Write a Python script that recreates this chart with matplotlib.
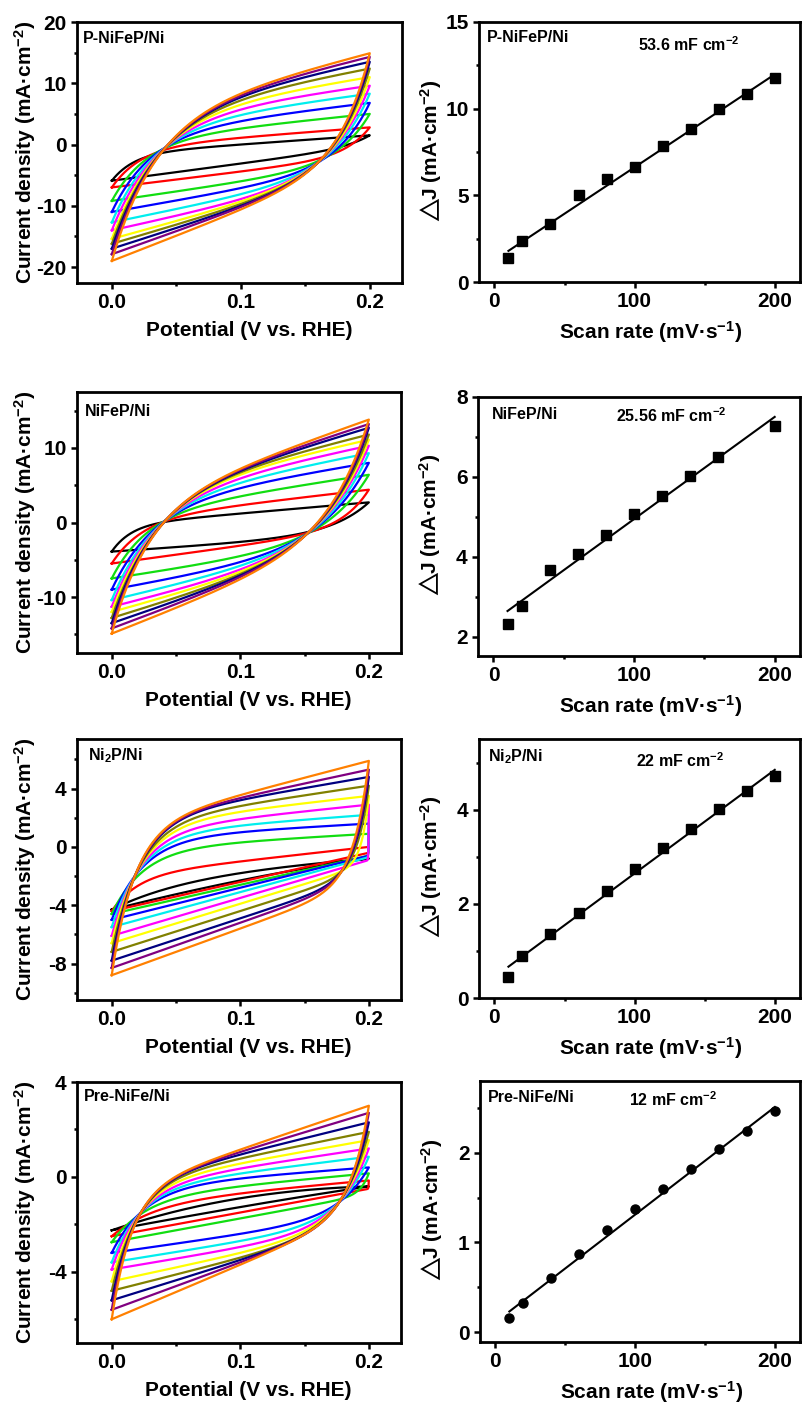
import numpy as np
import matplotlib
matplotlib.use('Agg')
import matplotlib.pyplot as plt
from matplotlib.ticker import MultipleLocator

plt.rcParams['font.family'] = ['Liberation Sans', 'DejaVu Sans']
plt.rcParams['font.weight'] = 'bold'
plt.rcParams['axes.unicode_minus'] = False
plt.rcParams['mathtext.fontset'] = 'custom'
plt.rcParams['mathtext.rm'] = 'Liberation Sans:bold'
plt.rcParams['mathtext.bf'] = 'Liberation Sans:bold'
plt.rcParams['mathtext.it'] = 'Liberation Sans:bold:italic'
plt.rcParams['mathtext.default'] = 'bf'

# ---------------- data ----------------
scan_rates = [10, 20, 40, 60, 80, 100, 120, 140, 160, 180, 200]
curve_colors = ['#000000', '#ff0000', '#11dd11', '#0000ff', '#00eeee', '#ff00ff',
                '#ffff00', '#808000', '#000080', '#800080', '#ff8000']

samples = ['P-NiFeP/Ni', 'NiFeP/Ni', 'Ni$_2$P/Ni', 'Pre-NiFe/Ni']

# CV readings (mA cm-2) for each scan rate:
#   top  = current at 0.2 V (switching point), bottom = current at 0 V
#   anodic_x / anodic_mid = anodic sweep at the left crossing potential / at 0.1 V
#   cathodic_x / cathodic_mid = cathodic sweep at the right crossing potential / at 0.1 V
pnifep_top = [1.5, 2.8, 5.0, 6.8, 8.3, 9.6, 11.0, 12.4, 13.5, 14.3, 14.9]
pnifep_bottom = [-5.9, -7.0, -9.2, -11.0, -12.7, -14.0, -15.4, -16.2, -17.0, -17.9, -19.0]
pnifep_anodic_x = [-1.25, -0.8, -0.5, -0.4, -0.4, -0.4, -0.4, -0.4, -0.4, -0.4, -0.4]
pnifep_anodic_mid = [0.0, 1.1, 2.6, 3.8, 4.8, 5.7, 6.5, 7.2, 7.7, 8.0, 8.3]
pnifep_cathodic_x = [-1.2, -2.3, -2.7, -2.9, -2.9, -2.9, -2.9, -2.9, -2.9, -2.9, -2.9]
pnifep_cathodic_mid = [-3.1, -4.4, -6.0, -7.1, -8.1, -8.9, -9.3, -9.7, -10.0, -10.2, -10.6]

nifep_top = [2.7, 4.4, 6.4, 8.0, 9.3, 10.3, 11.1, 11.8, 12.7, 13.2, 13.8]
nifep_bottom = [-3.9, -5.5, -7.5, -9.0, -10.4, -11.3, -12.0, -12.8, -13.5, -14.2, -14.9]
nifep_anodic_x = [0.1, 0.2, 0.3, 0.3, 0.3, 0.3, 0.3, 0.3, 0.3, 0.3, 0.3]
nifep_anodic_mid = [1.2, 2.3, 3.5, 4.6, 5.3, 5.9, 6.4, 6.7, 6.9, 7.05, 7.2]
nifep_cathodic_x = [-1.3, -1.4, -1.5, -1.5, -1.5, -1.5, -1.5, -1.5, -1.5, -1.5, -1.5]
nifep_cathodic_mid = [-2.6, -3.1, -4.5, -5.3, -5.8, -6.3, -6.6, -6.9, -7.1, -7.3, -7.6]

ni2p_top = [-0.8, 0.0, 0.9, 1.6, 2.2, 2.9, 3.5, 4.2, 4.8, 5.3, 5.9]
ni2p_bottom = [-4.3, -4.4, -4.6, -5.0, -5.5, -6.1, -6.6, -7.2, -7.8, -8.3, -8.8]
ni2p_anodic_x = [-3.6, -2.8, -2.2, -2.0, -2.0, -2.0, -2.0, -2.0, -2.0, -2.0, -2.0]
ni2p_anodic_mid = [-1.8, -1.0, 0.3, 1.0, 1.45, 1.9, 2.4, 2.8, 3.2, 3.35, 3.55]
ni2p_cathodic_x = [-1.3, -1.5, -1.65, -1.65, -1.65, -1.65, -1.65, -1.65, -1.65, -1.65, -1.65]
ni2p_cathodic_mid = [-2.3, -2.4, -2.6, -2.8, -3.1, -3.5, -3.9, -4.4, -4.9, -5.2, -5.6]

prenife_top = [-0.4, -0.15, 0.15, 0.4, 0.85, 1.2, 1.55, 1.9, 2.3, 2.7, 3.0]
prenife_bottom = [-2.25, -2.5, -2.75, -3.2, -3.6, -3.9, -4.4, -4.8, -5.2, -5.6, -6.0]
prenife_anodic_x = [-1.85, -1.7, -1.55, -1.48, -1.48, -1.48, -1.48, -1.48, -1.48, -1.48, -1.48]
prenife_anodic_mid = [-0.9, -0.7, -0.4, -0.07, 0.14, 0.35, 0.56, 0.77, 0.94, 1.05, 1.15]
prenife_cathodic_x = [-0.65, -0.8, -0.95, -1.06, -1.06, -1.06, -1.06, -1.06, -1.06, -1.06, -1.06]
prenife_cathodic_mid = [-1.27, -1.5, -1.75, -2.4, -2.7, -2.95, -3.2, -3.4, -3.5, -3.6, -3.7]

# crossing potentials (V) where the sweeps bunch together: left (anodic) / right (cathodic)
cv_cross_left = [0.042, 0.042, 0.018, 0.023]
cv_cross_right = [0.160, 0.152, 0.179, 0.177]

# Delta J vs scan rate
pnifep_rates = [10, 20, 40, 60, 80, 100, 120, 140, 160, 180, 200]
pnifep_dj = [1.40, 2.37, 3.33, 5.00, 5.92, 6.63, 7.87, 8.85, 9.96, 10.83, 11.79]
nifep_rates = [10, 20, 40, 60, 80, 100, 120, 140, 160, 200]
nifep_dj = [2.32, 2.77, 3.67, 4.06, 4.54, 5.07, 5.52, 6.02, 6.50, 7.27]
ni2p_rates = [10, 20, 40, 60, 80, 100, 120, 140, 160, 180, 200]
ni2p_dj = [0.44, 0.89, 1.36, 1.81, 2.27, 2.74, 3.18, 3.59, 4.01, 4.39, 4.72]
prenife_rates = [10, 20, 40, 60, 80, 100, 120, 140, 160, 180, 200]
prenife_dj = [0.16, 0.32, 0.60, 0.87, 1.14, 1.37, 1.60, 1.82, 2.04, 2.24, 2.47]

cdl_values = [53.6, 25.56, 22, 12]          # mF cm-2 (fit slopes)
cdl_labels = ['53.6', '25.56', '22', '12']
fit_intercepts = [1.26, 2.39, 0.445, 0.11]
fit_range = [10, 200]

cv_ylims = [(-22.6, 20), (-17.5, 17.5), (-10.5, 7.4), (-7.0, 4.0)]
cv_yticks = [[-20, -10, 0, 10, 20], [-10, 0, 10], [-8, -4, 0, 4], [-4, 0, 4]]
cv_yminor = [5, 5, 2, 2]
dj_ylims = [(0, 15), (1.52, 8), (0, 5.5), (-0.11, 2.8)]
dj_yticks = [[0, 5, 10, 15], [2, 4, 6, 8], [0, 2, 4], [0, 1, 2]]
dj_yminor = [2.5, 1, 1, 0.5]
dj_markers = ['s', 's', 's', 'o']

cv_sets = [
    (pnifep_top, pnifep_bottom, pnifep_anodic_x, pnifep_anodic_mid, pnifep_cathodic_x, pnifep_cathodic_mid),
    (nifep_top, nifep_bottom, nifep_anodic_x, nifep_anodic_mid, nifep_cathodic_x, nifep_cathodic_mid),
    (ni2p_top, ni2p_bottom, ni2p_anodic_x, ni2p_anodic_mid, ni2p_cathodic_x, ni2p_cathodic_mid),
    (prenife_top, prenife_bottom, prenife_anodic_x, prenife_anodic_mid, prenife_cathodic_x, prenife_cathodic_mid),
]
dj_sets = [(pnifep_rates, pnifep_dj), (nifep_rates, nifep_dj),
           (ni2p_rates, ni2p_dj), (prenife_rates, prenife_dj)]

E_LOW, E_HIGH = 0.0, 0.2
SPAN = E_HIGH - E_LOW


def sweep_coeffs(start, mid, end, tau):
    e1 = np.exp(-SPAN / 2 / tau)
    e2 = np.exp(-SPAN / tau)
    M = np.array([[1 - e1, SPAN / 2], [1 - e2, SPAN]])
    rhs = np.array([mid - start * e1, end - start * e2])
    return np.linalg.solve(M, rhs)


def sweep_value(u, start, mid, end, tau):
    a, b = sweep_coeffs(start, mid, end, tau)
    return a + b * u + (start - a) * np.exp(-u / tau)


def sweep(u, start, ux, vx, mid, end):
    """Smooth sweep through the read points: (0,start), (ux,vx), (SPAN/2,mid), (SPAN,end).
    Capacitive baseline + exponential relaxation whose width is found by bisection."""
    lo, hi = np.log(2e-4), np.log(0.3)
    f = lambda lt: sweep_value(ux, start, mid, end, np.exp(lt)) - vx
    flo, fhi = f(lo), f(hi)
    if flo * fhi > 0:
        lt = lo if abs(flo) < abs(fhi) else hi
    else:
        for _ in range(60):
            m = 0.5 * (lo + hi)
            fm = f(m)
            if fm * flo > 0:
                lo, flo = m, fm
            else:
                hi = m
        lt = 0.5 * (lo + hi)
    return sweep_value(u, start, mid, end, np.exp(lt))


# ---------------- layout ----------------
W, H = 805, 1407
fig = plt.figure(figsize=(W / 100, H / 100), dpi=100)

left_rects = [(77, 22, 402, 283), (77, 392, 401, 653), (77, 739, 401, 1000), (77, 1082, 401, 1343)]
right_rects = [(479, 22, 800, 282), (478, 397, 800, 656), (479, 739, 800, 998), (480, 1081, 800, 1342)]

cv_label_pos = [(0.018, 0.938), (0.025, 0.927), (0.034, 0.935), (0.02, 0.943)]
dj_label_pos = [(0.025, 0.942), (0.043, 0.934), (0.028, 0.931), (0.025, 0.935)]
cdl_pos = [(0.494, 0.912), (0.43, 0.927), (0.49, 0.915), (0.466, 0.927)]

TICK_FS = 15
LABEL_FS = 15
TEXT_FS = 11.5


def make_ax(r):
    x0, y0, x1, y1 = r
    ax = fig.add_axes([x0 / W, 1 - y1 / H, (x1 - x0) / W, (y1 - y0) / H])
    for s in ax.spines.values():
        s.set_linewidth(2.0)
    ax.tick_params(which='both', direction='out', top=False, right=False,
                   width=1.8, labelsize=TICK_FS)
    ax.tick_params(which='major', length=4.5, pad=3)
    ax.tick_params(which='minor', length=2.5)
    return ax


for i in range(4):
    # ---- CV panel ----
    ax = make_ax(left_rects[i])
    top, bottom, anx, amid, cax, cmid = cv_sets[i]
    E_an = np.linspace(E_LOW, E_HIGH, 500)
    E_ca = E_an[::-1]
    for k, v in enumerate(scan_rates):
        i_an = sweep(E_an - E_LOW, bottom[k], cv_cross_left[i] - E_LOW, anx[k], amid[k], top[k])
        i_ca = sweep(E_HIGH - E_ca, top[k], E_HIGH - cv_cross_right[i], cax[k], cmid[k], bottom[k])
        E_all = np.concatenate([E_an, E_ca])
        I_all = np.concatenate([i_an, i_ca])
        ax.plot(E_all, I_all, color=curve_colors[k], lw=1.6, solid_joinstyle='round')
    ax.set_xlim(-0.027, 0.225)
    ax.set_ylim(*cv_ylims[i])
    ax.set_xticks([0.0, 0.1, 0.2])
    ax.set_xticklabels(['0.0', '0.1', '0.2'], fontweight='bold')
    ax.xaxis.set_minor_locator(MultipleLocator(0.05))
    ax.set_yticks(cv_yticks[i])
    ax.set_yticklabels([str(t) for t in cv_yticks[i]], fontweight='bold')
    ax.yaxis.set_minor_locator(MultipleLocator(cv_yminor[i]))
    ax.set_xlabel('Potential (V vs. RHE)', fontsize=LABEL_FS, fontweight='bold')
    ax.set_ylabel('Current density (mA·cm$^{-2}$)', fontsize=LABEL_FS, fontweight='bold')
    ax.xaxis.set_label_coords(0.53, -0.145)
    ax.yaxis.set_label_coords(-0.12, 0.5)
    ax.text(*cv_label_pos[i], samples[i], transform=ax.transAxes, fontsize=TEXT_FS,
            fontweight='bold', ha='left', va='center')

    # ---- Delta J panel ----
    ax2 = make_ax(right_rects[i])
    rates, dj = dj_sets[i]
    ax2.plot(rates, dj, linestyle='none', marker=dj_markers[i], ms=6.5, color='black')
    xf = np.array(fit_range, dtype=float)
    ax2.plot(xf, fit_intercepts[i] + cdl_values[i] / 1000.0 * xf, color='black', lw=1.5)
    ax2.set_xlim(-11, 218)
    ax2.set_ylim(*dj_ylims[i])
    ax2.set_xticks([0, 100, 200])
    ax2.set_xticklabels(['0', '100', '200'], fontweight='bold')
    ax2.xaxis.set_minor_locator(MultipleLocator(50))
    ax2.set_yticks(dj_yticks[i])
    ax2.set_yticklabels([str(t) for t in dj_yticks[i]], fontweight='bold')
    ax2.yaxis.set_minor_locator(MultipleLocator(dj_yminor[i]))
    ax2.set_xlabel('Scan rate (mV·s$^{-1}$)', fontsize=LABEL_FS, fontweight='bold')
    ax2.set_ylabel(r'$\mathregular{\triangle}\!\!$J (mA·cm$^{-2}$)', fontsize=LABEL_FS, fontweight='bold')
    ax2.xaxis.set_label_coords(0.535, -0.142)
    ax2.yaxis.set_label_coords(-0.108, 0.5)
    ax2.text(*dj_label_pos[i], samples[i], transform=ax2.transAxes, fontsize=TEXT_FS,
             fontweight='bold', ha='left', va='center')
    ax2.text(*cdl_pos[i], cdl_labels[i] + ' mF cm$^{-2}$', transform=ax2.transAxes,
             fontsize=TEXT_FS, fontweight='bold', ha='left', va='center')

fig.savefig('out.png', dpi=100)
